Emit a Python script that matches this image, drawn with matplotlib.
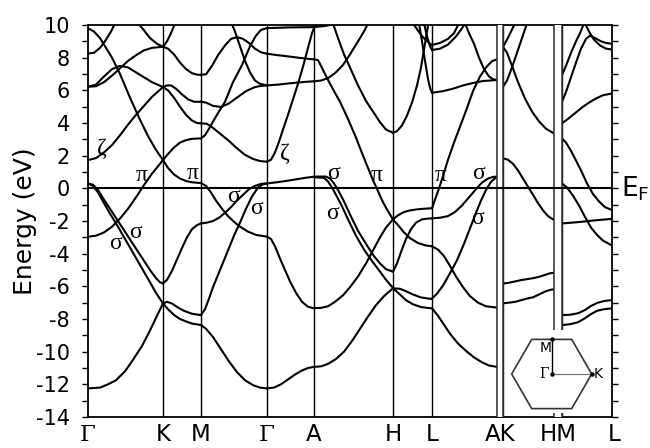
import matplotlib
matplotlib.use("Agg")
import matplotlib.pyplot as plt
from matplotlib.patches import Polygon, Rectangle
from matplotlib.ticker import MultipleLocator
import matplotlib.transforms as mtransforms

# ---------------- data ----------------
# high-symmetry positions along the k-path (arbitrary path units)
kpoints = [0, 75, 113, 179, 226, 305, 344, 408.7, 415, 466, 474, 524]
klabels = ["Γ", "K", "M", "Γ", "A", "H", "L", "AK", "HM", "L"]
klabel_pos = [0, 75, 113, 179, 226, 305, 344, 411.8, 470, 526]
# path breaks (A|K and H|M)
breaks = [(408.7, 415), (466, 474)]

yticks = [10, 8, 6, 4, 2, 0, -2, -4, -6, -8, -10, -12, -14]

# bands, segment by segment: lists of (k, E[eV])
seg_GK = [
    [(0,-12.25),(12,-12.2),(20,-12.0),(28,-11.75),(37,-11.2),(45,-10.5),(54,-9.65),(62,-8.7),(69,-7.8),(75,-7.05)],
    [(0,0.3),(5,0.22),(10,-0.1),(15,-0.6),(22,-1.25),(30,-2.0),(38,-2.75),(46,-3.5),(54,-4.25),(62,-5.0),(68,-5.5),(72,-5.75),(75,-5.82)],
    [(0,0.3),(5,0.15),(10,-0.25),(15,-0.8),(22,-1.55),(30,-2.35),(38,-3.2),(46,-4.05),(54,-4.9),(62,-5.75),(68,-6.4),(75,-7.05)],
    [(0,-2.96),(8,-2.9),(16,-2.7),(24,-2.35),(32,-1.85),(40,-1.25),(48,-0.55),(56,0.2),(64,0.9),(70,1.35),(75,1.73)],
    [(0,9.8),(6,9.6),(12,9.2),(18,8.6),(24,8.0),(32,7.0),(42,5.55),(52,4.2),(60,3.2),(68,2.35),(75,1.73)],
    [(0,8.25),(6,8.3),(12,8.6),(18,9.1),(23,9.6),(27,10.1)],
    [(0,6.22),(8,6.35),(16,6.85),(24,7.3),(32,7.5),(40,7.4),(48,7.1),(56,6.8),(64,6.5),(75,6.2)],
    [(0,6.22),(8,6.25),(16,6.5),(24,6.9),(32,7.35),(40,7.8),(48,8.15),(56,8.45),(64,8.6),(75,8.67)],
    [(0,1.73),(8,1.85),(16,2.2),(24,2.65),(32,3.25),(40,3.9),(48,4.5),(56,5.05),(64,5.6),(75,6.2)],
    [(50,10.1),(55,9.75),(62,9.2),(69,8.85),(75,8.67)],
]
seg_KM = [
    [(75,8.67),(79,9.0),(83,9.5),(87,10.1)],
    [(75,8.67),(80,8.55),(86,8.2),(92,7.7),(98,7.3),(104,7.05),(109,6.96),(113,6.94)],
    [(75,6.2),(79,6.3),(83,6.3),(88,6.1),(94,5.75),(100,5.45),(106,5.3),(113,5.3)],
    [(75,6.2),(80,6.0),(86,5.55),(92,5.0),(98,4.5),(104,4.15),(109,4.0),(113,3.98)],
    [(75,1.73),(80,2.1),(86,2.5),(92,2.8),(98,2.95),(104,3.03),(113,3.06)],
    [(75,1.73),(80,1.25),(86,0.85),(92,0.6),(98,0.45),(104,0.37),(113,0.32)],
    [(75,-5.82),(79,-5.6),(84,-5.05),(89,-4.35),(94,-3.65),(99,-3.0),(104,-2.5),(109,-2.25),(113,-2.15)],
    [(75,-7.05),(79,-6.95),(84,-7.05),(90,-7.3),(96,-7.5),(104,-7.68),(113,-7.76)],
    [(75,-7.05),(80,-7.4),(86,-7.75),(92,-8.0),(98,-8.15),(104,-8.28),(113,-8.37)],
]
seg_MG = [
    [(113,6.96),(118,6.98),(124,7.5),(130,8.15),(137,8.75),(143,9.15),(149,9.26),(155,9.15),(161,8.9),(167,8.55),(173,8.33),(179,8.24)],
    [(113,5.3),(118,5.25),(125,5.05),(133,4.98),(141,5.2),(150,5.6),(158,5.95),(167,6.2),(173,6.27),(179,6.3)],
    [(143,10.2),(147,9.6),(152,8.7),(157,7.8),(162,7.1),(167,6.6),(172,6.4),(179,6.3)],
    [(113,3.06),(117,3.25),(121,3.65),(127,4.3),(133,4.9),(137,5.3),(145,6.5),(154,7.55),(162,8.7),(168,9.35),(173,9.7),(179,9.81)],
    [(113,3.98),(119,3.95),(125,3.7),(133,3.3),(141,2.9),(149,2.45),(157,2.05),(165,1.8),(172,1.67),(179,1.63)],
    [(113,-2.15),(119,-2.1),(125,-2.0),(131,-1.8),(137,-1.5),(143,-1.15),(149,-0.75),(155,-0.4),(161,-0.05),(167,0.15),(173,0.27),(179,0.3)],
    [(113,0.32),(118,0.15),(123,-0.25),(128,-0.75),(134,-1.25),(140,-1.7),(146,-2.05),(152,-2.35),(160,-2.65),(168,-2.85),(179,-2.96)],
    [(113,-7.76),(117,-7.4),(121,-6.75),(125,-6.05),(130,-5.3),(135,-4.55),(140,-3.8),(146,-2.9),(152,-2.1),(158,-1.25),(164,-0.5),(170,0.05),(175,0.25),(179,0.3)],
    [(113,-8.37),(118,-8.6),(125,-9.1),(133,-9.85),(141,-10.6),(149,-11.25),(157,-11.75),(165,-12.05),(172,-12.2),(179,-12.25)],
]
seg_GA = [
    [(179,9.81),(190,9.83),(200,9.85),(212,9.86),(226,9.87),(238,9.95),(250,10.1)],
    [(179,8.24),(190,8.15),(200,8.08),(210,8.0),(220,7.93),(226,7.9)],
    [(179,6.3),(190,6.35),(200,6.42),(210,6.48),(220,6.53),(226,6.55)],
    [(179,1.63),(183,1.75),(187,2.2),(191,2.85),(195,3.6),(200,4.5),(205,5.45),(210,6.4),(215,7.45),(220,8.6),(224,9.5),(227,9.95),(229,10.2)],
    [(179,0.3),(190,0.38),(200,0.47),(210,0.57),(218,0.65),(226,0.71)],
    [(179,-2.96),(183,-3.1),(187,-3.55),(192,-4.3),(197,-5.0),(202,-5.7),(208,-6.4),(214,-6.95),(220,-7.25),(226,-7.35)],
    [(179,-12.25),(186,-12.2),(193,-12.0),(200,-11.7),(207,-11.4),(214,-11.15),(220,-11.0),(226,-10.93)],
]
seg_AH = [
    [(226,7.9),(230,7.85),(233,7.5),(237,7.0),(242,6.4),(247,5.85),(252,5.3),(260,4.25),(268,3.1),(276,1.85),(285,0.5),(295,-0.85),(300,-1.4),(305,-1.9)],
    [(226,6.55),(233,6.6),(240,6.75),(247,7.05),(255,7.55),(262,8.2),(270,9.0),(276,9.6),(280,10.1)],
    [(245,10.1),(250,9.2),(256,8.2),(262,7.4),(270,6.3),(278,5.35),(285,4.7),(292,4.05),(298,3.6),(305,3.4)],
    [(226,0.72),(238,0.72),(242,0.6),(246,0.3),(250,-0.1),(256,-0.8),(262,-1.6),(270,-2.6),(279,-3.5),(286,-4.15),(292,-4.6),(298,-4.95),(305,-5.1)],
    [(226,0.68),(236,0.64),(240,0.42),(244,0.05),(248,-0.4),(254,-1.1),(260,-1.9),(268,-2.9),(276,-3.75),(284,-4.45),(292,-5.1),(298,-5.6),(305,-6.1)],
    [(226,-7.33),(233,-7.32),(240,-7.22),(247,-6.95),(255,-6.55),(262,-6.05),(270,-5.4),(278,-4.6),(285,-3.8),(292,-3.0),(298,-2.4),(305,-1.9)],
    [(226,-10.93),(233,-10.9),(240,-10.75),(248,-10.45),(256,-10.0),(264,-9.35),(272,-8.6),(280,-7.85),(288,-7.15),(296,-6.6),(305,-6.12)],
]
seg_HL = [
    [(305,3.4),(309,3.5),(314,3.85),(319,4.45),(324,5.25),(329,6.3),(333,7.4),(336,8.5),(339,9.6),(340.5,10.1)],
    [(325,10.1),(330,9.65),(335,9.25),(340,8.95),(344,8.78)],
    [(336,10.1),(339,9.3),(342,8.7),(344,8.47)],
    [(331,10.1),(334,9.0),(337,7.8),(340,6.7),(342,6.15),(344,5.85)],
    [(305,-1.9),(310,-1.65),(316,-1.45),(322,-1.35),(330,-1.28),(338,-1.24),(344,-1.22)],
    [(305,-1.9),(310,-2.25),(316,-2.7),(322,-3.05),(330,-3.35),(338,-3.5),(344,-3.55)],
    [(305,-5.1),(309,-4.6),(313,-3.9),(318,-3.1),(323,-2.5),(328,-2.1),(334,-1.9),(340,-1.85),(344,-1.84)],
    [(305,-6.12),(312,-6.15),(318,-6.3),(325,-6.5),(333,-6.68),(344,-6.78)],
    [(305,-6.12),(312,-6.5),(318,-6.85),(325,-7.1),(333,-7.27),(344,-7.35)],
]
seg_LA = [
    [(344,5.85),(355,5.95),(365,6.1),(375,6.3),(385,6.45),(395,6.57),(408.7,6.63)],
    [(344,8.78),(352,8.9),(360,9.15),(366,9.5),(371,10.1)],
    [(344,8.47),(352,8.55),(360,8.8),(368,9.3),(374,9.8),(377,10.1)],
    [(377,10.1),(381,9.5),(386,8.85),(391,8.0),(396,7.3),(401,6.85),(405,6.68),(408.7,6.63)],
    [(344,-1.22),(347,-0.7),(351,0.0),(355,0.75),(360,1.75),(366,2.8),(372,3.77),(378,4.75),(385,5.95),(392,6.85),(398.7,7.45),(404,7.78),(408.7,7.9)],
    [(344,-1.84),(352,-1.8),(360,-1.7),(367,-1.45),(374,-1.05),(381,-0.55),(388,-0.05),(394,0.35),(400,0.6),(405,0.7),(408.7,0.72)],
    [(344,-6.74),(349,-6.45),(355,-5.95),(362,-5.2),(369,-4.4),(376,-3.4),(382,-2.45),(388,-1.5),(393,-0.75),(398,-0.1),(403,0.4),(408.7,0.7)],
    [(344,-3.55),(350,-3.75),(356,-4.15),(362,-4.75),(368,-5.4),(375,-6.05),(382,-6.6),(390,-7.0),(398,-7.22),(408.7,-7.3)],
    [(344,-7.35),(350,-7.8),(356,-8.35),(362,-8.9),(370,-9.5),(378,-9.95),(386,-10.35),(394,-10.65),(401,-10.85),(408.7,-10.93)],
]
seg_KH = [
    [(415,8.67),(419,9.1),(423,9.6),(427,10.1)],
    [(415,8.67),(419,8.3),(424,7.5),(430,6.5),(437,5.5),(444,4.7),(451,4.1),(458,3.65),(466,3.36)],
    [(415,6.22),(419,6.6),(424,7.4),(429,8.3),(434,9.2),(439,10.1)],
    [(415,1.84),(420,1.75),(425,1.5),(430,1.1),(435,0.6),(440,0.1),(445,-0.4),(450,-0.9),(455,-1.35),(460,-1.7),(466,-1.94)],
    [(415,-5.83),(421,-5.78),(427,-5.7),(433,-5.62),(439,-5.56),(445,-5.5),(451,-5.42),(457,-5.3),(462,-5.2),(466,-5.17)],
    [(415,-7.04),(421,-7.0),(427,-6.95),(433,-6.85),(439,-6.75),(445,-6.67),(451,-6.5),(457,-6.32),(462,-6.22),(466,-6.18)],
]
seg_ML = [
    [(474,6.94),(478,7.5),(483,8.3),(488,9.0),(492,9.5),(496,10.1)],
    [(474,5.3),(478,5.9),(483,6.8),(488,7.7),(493,8.55),(498,9.15),(502,9.35),(507,9.2),(513,9.0),(518,8.9),(524,8.85)],
    [(497,10.1),(501,9.6),(506,9.1),(512,8.75),(518,8.55),(524,8.5)],
    [(474,3.98),(480,4.25),(487,4.6),(494,4.95),(501,5.25),(508,5.5),(515,5.7),(524,5.81)],
    [(474,3.06),(478,2.8),(483,2.3),(488,1.7),(493,1.1),(499,0.3),(505,-0.35),(511,-0.8),(517,-1.15),(524,-1.33)],
    [(474,0.3),(479,0.05),(485,-0.45),(491,-1.05),(497,-1.75),(503,-2.4),(509,-2.85),(515,-3.2),(524,-3.5)],
    [(474,-2.15),(490,-2.07),(507,-1.96),(524,-1.87)],
    [(474,-7.76),(482,-7.74),(490,-7.65),(497,-7.45),(503,-7.2),(509,-7.02),(516,-6.9),(524,-6.84)],
    [(474,-8.37),(482,-8.32),(490,-8.2),(497,-7.95),(503,-7.7),(509,-7.5),(516,-7.4),(524,-7.35)],
]
segments = [seg_GK, seg_KM, seg_MG, seg_GA, seg_AH, seg_HL, seg_LA, seg_KH, seg_ML]

# orbital-character annotations (symbol, k, E)
orbital_labels = [
    ("ζ", 13.7, 2.45), ("π", 53.7, 0.81), ("π", 104.7, 0.92),
    ("σ", 145.3, -0.51), ("σ", 168.7, -1.22), ("ζ", 197, 2.14),
    ("σ", 245.3, 0.92), ("π", 288.7, 0.81), ("π", 352.7, 0.77),
    ("σ", 390.3, 0.88), ("σ", 390, -1.84), ("σ", 245, -1.53),
    ("σ", 28, -3.37), ("σ", 48, -2.72),
]

# ---------------- figure ----------------
W, H = 650, 448
fig = plt.figure(figsize=(W / 100, H / 100), dpi=100)
ax = fig.add_axes([88 / W, (H - 417) / H, (612 - 88) / W, (417 - 25) / H])

for seg in segments:
    for band in seg:
        ks = [p[0] for p in band]
        es = [p[1] for p in band]
        ax.plot(ks, es, color="black", lw=1.5, solid_joinstyle="round", zorder=3)

# high-symmetry vertical lines
for kp in kpoints[1:-1]:
    ax.axvline(kp, color="black", lw=1.0, zorder=2)
# white gaps between broken path pieces
for a, b in breaks:
    ax.axvspan(a, b, color="white", zorder=4, lw=0)
    ax.axvline(a, color="#333333", lw=1.1, zorder=5)
    ax.axvline(b, color="#333333", lw=1.1, zorder=5)

# Fermi level
ax.axhline(0, color="black", lw=1.5, zorder=6)

ax.set_xlim(kpoints[0], kpoints[-1])
ax.set_ylim(-14, 10)
ax.set_yticks(yticks)
ax.set_yticklabels([str(v) for v in yticks], fontsize=15, family="DejaVu Sans")
ax.yaxis.set_minor_locator(MultipleLocator(1))
ax.tick_params(axis="y", which="both", direction="out", length=4, width=1,
               left=True, right=True, labelleft=True, labelright=False, pad=9)
ax.set_xticks([])
for sp in ax.spines.values():
    sp.set_linewidth(1.3)

# k-point labels
trans = mtransforms.blended_transform_factory(ax.transData, ax.transAxes)
for lab, kp in zip(klabels, klabel_pos):
    fam = "DejaVu Serif" if lab == "Γ" else "DejaVu Sans"
    ax.text(kp, -0.074, lab, transform=trans, ha="center", va="bottom",
            fontsize=16.5, family=fam)

# orbital labels
for sym, kk, ee in orbital_labels:
    ax.text(kk, ee, sym, ha="center", va="center", fontsize=17,
            family="Liberation Serif", zorder=7)

# Fermi level label
transE = mtransforms.blended_transform_factory(ax.transAxes, ax.transData)
ax.text(1.018, 0, r"E$_\mathregular{F}$", transform=transE,
        ha="left", va="center", fontsize=19, family="DejaVu Sans")
fig.text(25 / W, 1 - 221 / H, "Energy (eV)", rotation=90, ha="center", va="center",
         fontsize=18, family="DejaVu Sans")

# Brillouin-zone inset
ins = fig.add_axes([505 / W, (H - 413) / H, 95 / W, 83 / H])
ins.set_xlim(-46.7, 48.3)
ins.set_ylim(-39, 44)
ins.axis("off")
ins.add_patch(Rectangle((-46.7, -39), 95, 83, facecolor="white", edgecolor="none", zorder=0))
R = 40
hexv = [(R, 0), (R / 2, 34.6), (-R / 2, 34.6), (-R, 0), (-R / 2, -34.6), (R / 2, -34.6)]
ins.add_patch(Polygon(hexv, closed=True, fill=False, edgecolor="#333333", lw=1.2))
ins.plot([0, 0], [0, 34.6], color="black", lw=1.0)
ins.plot([0, R], [0, 0], color="#777777", lw=0.9)
ins.plot([0, 0, R], [0, 34.6, 0], "o", color="black", ms=2.2)
ins.text(-6, 26, "M", ha="center", va="center", fontsize=10, family="DejaVu Sans")
ins.text(-8, 0, "Γ", ha="center", va="center", fontsize=10, family="DejaVu Serif")
ins.text(46.5, 0, "K", ha="center", va="center", fontsize=10, family="DejaVu Sans")

fig.savefig("out.png", dpi=100)
